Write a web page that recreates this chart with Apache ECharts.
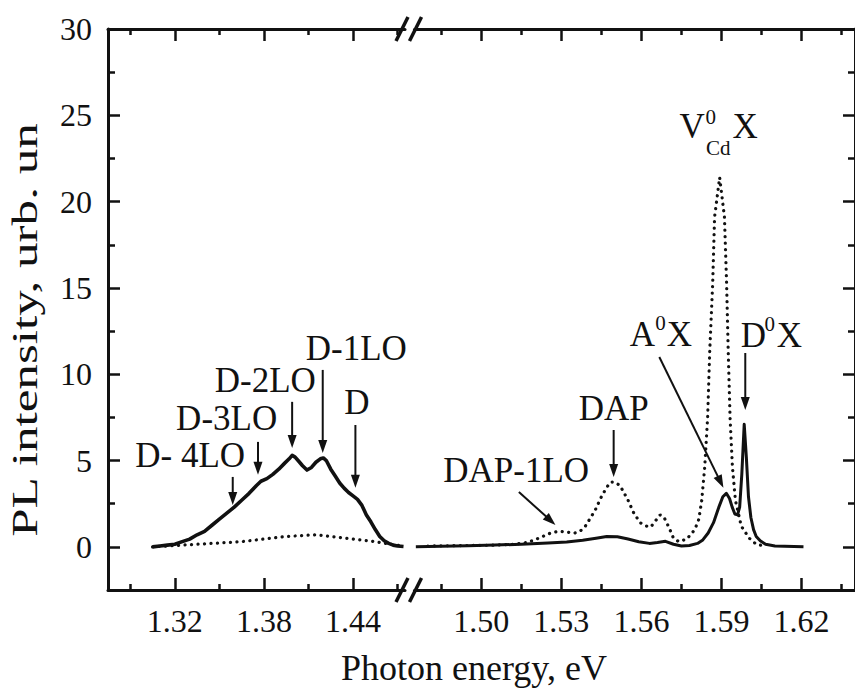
<!DOCTYPE html>
<html>
<head>
<meta charset="utf-8">
<script src="https://cdn.jsdelivr.net/npm/echarts@6/dist/echarts.min.js"></script>
<style>
  html, body { margin: 0; padding: 0; background: #fff; }
  #chart { width: 855px; height: 696px; }
</style>
</head>
<body>
<div id="chart"></div>
<script>
// ---- Spectra: [photon energy (eV), PL intensity] ----
// Defect band, 1.30-1.47 eV
const lowSolid = [
  [1.305,0.0],[1.310,0.05],[1.315,0.1],[1.320,0.15],[1.325,0.3],[1.330,0.45],[1.335,0.7],
  [1.340,0.9],[1.345,1.25],[1.350,1.6],[1.355,1.95],[1.360,2.3],[1.365,2.7],[1.370,3.1],
  [1.375,3.55],[1.378,3.8],[1.382,3.95],[1.386,4.2],[1.390,4.5],[1.394,4.85],[1.397,5.1],
  [1.399,5.3],[1.401,5.2],[1.403,5.0],[1.406,4.7],[1.409,4.45],[1.412,4.6],[1.415,4.9],
  [1.418,5.1],[1.420,5.15],[1.422,5.0],[1.425,4.5],[1.428,4.1],[1.431,3.7],[1.434,3.4],
  [1.437,3.15],[1.440,2.95],[1.443,2.75],[1.446,2.4],[1.449,1.85],[1.452,1.45],[1.455,1.0],
  [1.458,0.6],[1.461,0.35],[1.464,0.2],[1.467,0.1],[1.470,0.05],[1.474,0.02]
];
const lowDotted = [
  [1.305,0.0],[1.315,0.05],[1.325,0.1],[1.335,0.15],[1.345,0.2],[1.355,0.25],[1.365,0.3],
  [1.375,0.4],[1.385,0.5],[1.395,0.6],[1.405,0.65],[1.415,0.7],[1.425,0.6],[1.435,0.5],
  [1.445,0.4],[1.455,0.3],[1.465,0.15],[1.474,0.05]
];
// Near-edge region, 1.48-1.63 eV
const highSolid = [
  [1.4755,0.0],[1.485,0.03],[1.495,0.06],[1.505,0.1],[1.515,0.15],[1.525,0.22],[1.532,0.28],
  [1.538,0.38],[1.543,0.5],[1.547,0.6],[1.551,0.58],[1.555,0.45],[1.559,0.3],[1.563,0.2],
  [1.566,0.25],[1.569,0.32],[1.572,0.15],[1.575,0.05],[1.578,0.08],[1.581,0.2],[1.583,0.4],
  [1.585,0.8],[1.587,1.4],[1.589,2.3],[1.5905,2.9],[1.5918,3.1],[1.593,2.8],[1.594,2.3],
  [1.595,1.9],[1.596,1.85],[1.5968,2.3],[1.5976,4.2],[1.5985,7.1],[1.5993,5.2],[1.6001,2.9],
  [1.601,1.7],[1.602,1.0],[1.603,0.6],[1.6045,0.35],[1.6065,0.15],[1.610,0.05],[1.6207,0.0]
];
const highDotted = [
  [1.480,0.05],[1.495,0.08],[1.505,0.1],[1.512,0.15],[1.517,0.25],[1.520,0.4],[1.523,0.6],
  [1.526,0.8],[1.529,0.9],[1.532,0.85],[1.535,0.8],[1.537,0.9],[1.539,1.2],[1.541,1.7],
  [1.5426,2.1],[1.545,2.9],[1.547,3.45],[1.5485,3.75],[1.550,3.75],[1.552,3.55],[1.555,2.7],
  [1.557,2.0],[1.5595,1.4],[1.562,1.2],[1.5635,1.15],[1.565,1.45],[1.567,1.85],[1.5685,1.7],
  [1.5704,1.1],[1.572,0.5],[1.574,0.3],[1.577,0.45],[1.580,1.0],[1.5815,1.6],[1.5826,2.7],
  [1.5837,4.6],[1.5848,7.5],[1.5856,11.4],[1.5867,15.3],[1.5874,19.1],[1.5893,21.4],
  [1.5911,19.1],[1.5919,15.3],[1.5925,11.4],[1.5932,7.5],[1.5941,4.6],[1.5952,2.7],
  [1.5974,1.2],[1.6004,0.5],[1.6030,0.15],[1.6060,0.05]
];

// ---- Axis ranges and ticks ----
const lowRange = [1.275, 1.475];
const highRange = [1.475, 1.64];
const yRange = [-2.5, 30];
const lowMajor = [1.32, 1.38, 1.44];
const lowMinor = [1.29, 1.35, 1.41, 1.47];
const highMajor = [1.50, 1.53, 1.56, 1.59, 1.62];
const highMinor = [1.485, 1.515, 1.545, 1.575, 1.605, 1.635];
const yMajor = [0, 5, 10, 15, 20, 25, 30];
const yMinor = [2.5, 7.5, 12.5, 17.5, 22.5, 27.5];

// ---- Peak labels (text centre) and arrows (tail -> tip), in data units ----
const lowLabels = [
  { text: 'D- 4LO', at: [1.3303, 5.27] },
  { text: 'D-3LO',  at: [1.3549, 7.41] },
  { text: 'D-2LO',  at: [1.3809, 9.64] },
  { text: 'D-1LO',  at: [1.4422, 11.49] },
  { text: 'D',      at: [1.4426, 8.37] }
];
const lowArrows = [
  { from: [1.359, 4.05],  to: [1.359, 2.43] },
  { from: [1.376, 6.08],  to: [1.376, 4.17] },
  { from: [1.399, 8.4],   to: [1.399, 5.73] },
  { from: [1.4196, 10.25], to: [1.4196, 5.44] },
  { from: [1.4416, 7.06], to: [1.4416, 3.42] }
];
const highLabels = [
  { text: 'DAP-1LO', at: [1.5131, 4.43] },
  { text: 'DAP',     at: [1.5496, 7.99] }
];
const highArrows = [
  { from: [1.5141, 3.18], to: [1.5278, 1.27] },
  { from: [1.5496, 6.77], to: [1.5496, 4.05] },
  { from: [1.5667, 11.0], to: [1.5907, 3.42] },
  { from: [1.5989, 11.23], to: [1.5989, 7.93] }
];
// Exciton labels with super/subscripts: anchor = centre of the first letter,
// each part given as [text, dx, dy, main|small] relative to it
const excitonLabels = [
  { at: [1.5790, 24.35], parts: [['V', 0, 0, 'm'], ['0', 18.5, -10, 's'], ['Cd', 26, 21, 's'], ['X', 53, 0, 'm']] },
  { at: [1.5604, 12.31], parts: [['A', 0, 0, 'm'], ['0', 18, -11.5, 's'], ['X', 37, 0, 'm']] },
  { at: [1.6019, 12.27], parts: [['D', 0, 0, 'm'], ['0', 16.5, -11.5, 's'], ['X', 36, 0, 'm']] }
];

const FONT = 'Liberation Serif';
const INK = '#111';
const GRID_LOW = { left: 108, top: 29, width: 297, height: 561 };
const GRID_HIGH = { left: 414.5, top: 29, width: 445.5, height: 561 };

function xAxis(grid, pos, range, values, len, withLine, withLabel) {
  return {
    type: 'value', gridIndex: grid, position: pos, min: range[0], max: range[1],
    axisLine: { show: withLine, onZero: false, lineStyle: { color: INK, width: 3 } },
    axisTick: { show: true, inside: true, length: len, customValues: values,
                lineStyle: { color: INK, width: 2.5 } },
    axisLabel: { show: withLabel, customValues: values, margin: 15,
                 formatter: v => v.toFixed(2),
                 fontFamily: FONT, fontSize: 32, color: INK },
    splitLine: { show: false }
  };
}
function yAxis(grid, pos, values, len, withLine, withLabel) {
  return {
    type: 'value', gridIndex: grid, position: pos, min: yRange[0], max: yRange[1],
    axisLine: { show: withLine, onZero: false, lineStyle: { color: INK, width: 3 } },
    axisTick: { show: true, inside: true, length: len, customValues: values,
                lineStyle: { color: INK, width: 2.5 } },
    axisLabel: { show: withLabel, customValues: values, margin: 16,
                 formatter: v => String(v),
                 fontFamily: FONT, fontSize: 32, color: INK },
    splitLine: { show: false }
  };
}

const solidStyle = w => ({ color: INK, width: w, join: 'round' });
const dotStyle = { color: INK, width: 3.2, type: [0.1, 6.4], cap: 'round' };

const chart = echarts.init(document.getElementById('chart'), null, { renderer: 'svg' });
chart.setOption({
  animation: false,
  backgroundColor: '#fff',
  grid: [GRID_LOW, GRID_HIGH],
  xAxis: [
    xAxis(0, 'bottom', lowRange, lowMajor, 12, true, true),
    xAxis(0, 'bottom', lowRange, lowMinor, 6, false, false),
    xAxis(0, 'top', lowRange, lowMajor, 12, true, false),
    xAxis(0, 'top', lowRange, lowMinor, 6, false, false),
    xAxis(1, 'bottom', highRange, highMajor, 12, true, true),
    xAxis(1, 'bottom', highRange, highMinor, 6, false, false),
    xAxis(1, 'top', highRange, highMajor, 12, true, false),
    xAxis(1, 'top', highRange, highMinor, 6, false, false)
  ],
  yAxis: [
    yAxis(0, 'left', yMajor, 12, true, true),
    yAxis(0, 'left', yMinor, 7, false, false),
    yAxis(1, 'right', yMajor, 12, true, false),
    yAxis(1, 'right', yMinor, 7, false, false)
  ],
  series: [
    { type: 'line', xAxisIndex: 0, yAxisIndex: 0, data: lowDotted, showSymbol: false, lineStyle: dotStyle },
    { type: 'line', xAxisIndex: 0, yAxisIndex: 0, data: lowSolid, showSymbol: false, lineStyle: solidStyle(3.6) },
    { type: 'line', xAxisIndex: 4, yAxisIndex: 2, data: highDotted, showSymbol: false, lineStyle: dotStyle },
    { type: 'line', xAxisIndex: 4, yAxisIndex: 2, data: highSolid, showSymbol: false, lineStyle: solidStyle(3) }
  ]
});

// ---- Annotations, placed through the axes' own scales ----
const lowFinder = { xAxisIndex: 0, yAxisIndex: 0 };
const highFinder = { xAxisIndex: 4, yAxisIndex: 2 };
const toPx = (finder, p) => chart.convertToPixel(finder, p);

const graphics = [];
function addText(text, x, y, size) {
  graphics.push({
    type: 'text', x: x, y: y, silent: true, z: 50,
    style: { text: text, fill: INK, font: size + 'px "' + FONT + '"',
             align: 'center', verticalAlign: 'middle' }
  });
}
function addArrow(finder, a) {
  const p1 = toPx(finder, a.from), p2 = toPx(finder, a.to);
  const dx = p2[0] - p1[0], dy = p2[1] - p1[1];
  const L = Math.hypot(dx, dy), ux = dx / L, uy = dy / L;
  const head = 13, half = 4.5;
  const bx = p2[0] - ux * head, by = p2[1] - uy * head;
  graphics.push({
    type: 'line', silent: true, z: 50,
    shape: { x1: p1[0], y1: p1[1], x2: bx + ux * 2, y2: by + uy * 2 },
    style: { stroke: INK, lineWidth: 2 }
  });
  graphics.push({
    type: 'polygon', silent: true, z: 50,
    shape: { points: [[p2[0], p2[1]], [bx - uy * half, by + ux * half], [bx + uy * half, by - ux * half]] },
    style: { fill: INK }
  });
}
lowLabels.forEach(l => { const p = toPx(lowFinder, l.at); addText(l.text, p[0], p[1], 35); });
highLabels.forEach(l => { const p = toPx(highFinder, l.at); addText(l.text, p[0], p[1], 35); });
lowArrows.forEach(a => addArrow(lowFinder, a));
highArrows.forEach(a => addArrow(highFinder, a));
excitonLabels.forEach(e => {
  const p = toPx(highFinder, e.at);
  e.parts.forEach(([t, ox, oy, kind]) => addText(t, p[0] + ox, p[1] + oy, kind === 'm' ? 35 : 21));
});

// Axis break marks on the top and bottom frame lines
const breakLeft = GRID_LOW.left + GRID_LOW.width - 3;
const breakRight = GRID_HIGH.left + 1;
[GRID_LOW.top, GRID_LOW.top + GRID_LOW.height].forEach(yy => {
  [breakLeft, breakRight].forEach(xx => {
    graphics.push({
      type: 'line', silent: true, z: 60,
      shape: { x1: xx - 6, y1: yy + 12, x2: xx + 6, y2: yy - 12 },
      style: { stroke: INK, lineWidth: 3.5 }
    });
  });
});

// Axis titles
graphics.push({
  type: 'text', x: 474, y: 668, silent: true, z: 50,
  style: { text: 'Photon energy, eV', fill: INK, font: '36px "' + FONT + '"',
           align: 'center', verticalAlign: 'middle' }
});
graphics.push({
  type: 'text', x: 25, y: 330, rotation: Math.PI / 2, scaleX: 1.42, silent: true, z: 50,
  style: { text: 'PL intensity, urb. un', fill: INK, font: '36px "' + FONT + '"',
           align: 'center', verticalAlign: 'middle' }
});

chart.setOption({ graphic: graphics });
</script>
</body>
</html>
